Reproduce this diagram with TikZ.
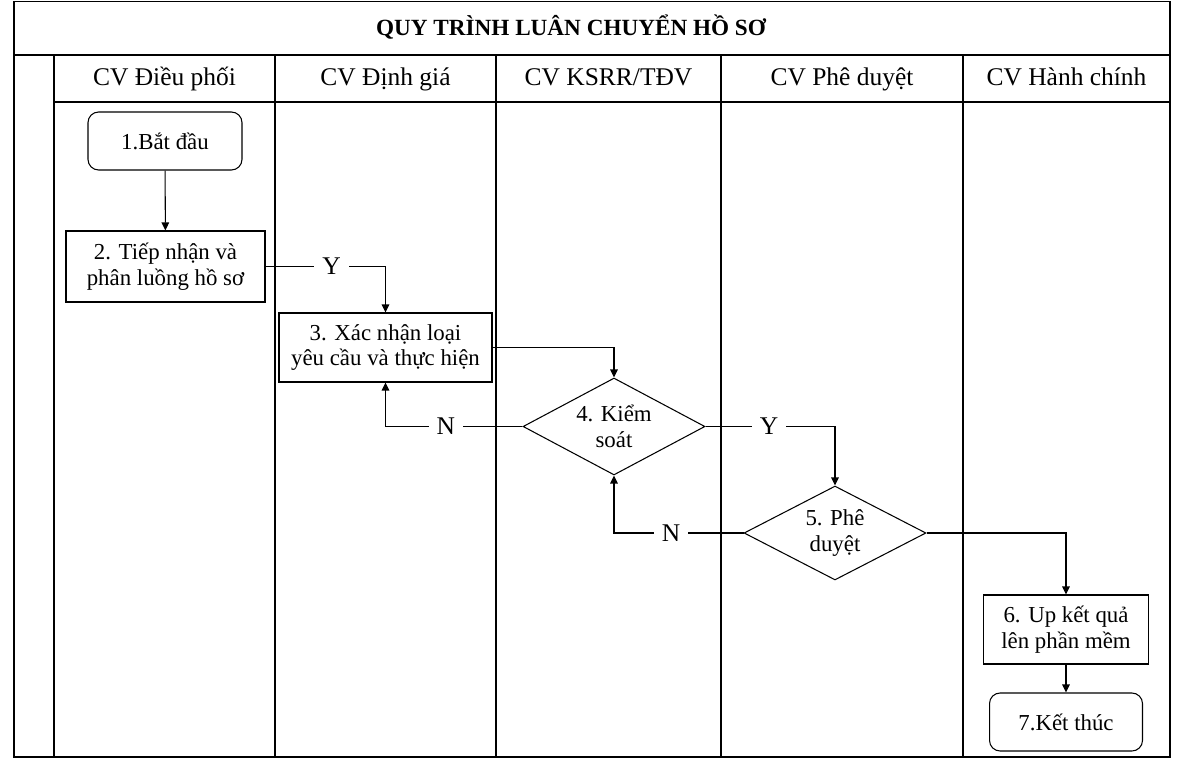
\documentclass[tikz,border=0pt]{standalone}
\usepackage{fontspec}
\setmainfont{Liberation Serif}
\usetikzlibrary{arrows.meta,positioning,shapes.geometric}

\begin{document}
\begin{tikzpicture}[
  x=0.02cm, y=-0.02cm,
  font=\fontsize{13}{14.5}\selectfont,
  lane/.style={line width=0.8pt},
  head/.style={anchor=base, font=\fontsize{14.5}{16}\selectfont},
  stepbox/.style={draw, line width=0.6pt, align=center, inner sep=2pt},
  terminal/.style={stepbox, rounded corners=6pt},
  decision/.style={draw, diamond, aspect=1.9, line width=0.6pt, align=center, inner sep=0pt},
  flow/.style={-{Triangle[length=1.6mm, width=1.5mm]}, line width=0.6pt},
  lbl/.style={fill=white, inner xsep=4.5pt, inner ysep=1pt, font=\fontsize{14.5}{16}\selectfont}
]
\useasboundingbox (0,0) rectangle (1193,760);

% frame and swimlanes
\draw[lane] (14,1.5) rectangle (1170,757);
\draw[lane] (14,55) -- (1170,55);
\draw[lane] (54,102) -- (1170,102);
\foreach \x in {54,275,496,721,963}
  \draw[lane] (\x,55) -- (\x,757);

\node[anchor=base, font=\bfseries\fontsize{13.2}{16}\selectfont] (title) at (571,36) {QUY TRÌNH LUÂN CHUYỂN HỒ SƠ};
\node[head] (h1) at (164.5,86) {CV Điều phối};
\node[head] (h2) at (385.5,86) {CV Định giá};
\node[head] (h3) at (608.5,86) {CV KSRR/TĐV};
\node[head] (h4) at (842,86) {CV Phê duyệt};
\node[head] (h5) at (1066.5,86) {CV Hành chính};

% steps
\node[terminal, minimum width=3.08cm, minimum height=1.16cm] (s1) at (165,141) {1.Bắt đầu};
\node[stepbox, minimum width=3.98cm, minimum height=1.42cm] (s2) at (165.5,266.5) {2. Tiếp nhận và\\phân luồng hồ sơ};
\node[stepbox, minimum width=4.26cm, minimum height=1.38cm] (s3) at (385.5,347.5) {3. Xác nhận loại\\yêu cầu và thực hiện};
\node[decision, minimum width=3.64cm, minimum height=1.94cm] (s4) at (614,426.5) {4. Kiểm\\soát};
\node[decision, minimum width=3.64cm, minimum height=1.88cm] (s5) at (835,533) {5. Phê\\duyệt};
\node[stepbox, minimum width=3.3cm, minimum height=1.38cm] (s6) at (1066,629.5) {6. Up kết quả\\lên phần mềm};
\node[terminal, minimum width=3.06cm, minimum height=1.16cm] (s7) at (1066,722) {7.Kết thúc};

% connectors
\draw[flow] (s1) -- (s2);
\draw[flow] (s2.east) -| node[lbl, pos=0.275] {Y} (s3.north);
\draw[flow] (s3.east) -| (s4.north);
\draw[flow] (s4.west) -| node[lbl, pos=0.28] {N} (s3.south);
\draw[flow] (s4.east) -| node[lbl, pos=0.245] {Y} (s5.north);
\draw[flow] (s5.west) -| node[lbl, pos=0.28] {N} (s4.south);
\draw[flow] (s5.east) -| (s6.north);
\draw[flow] (s6) -- (s7);
\end{tikzpicture}
\end{document}
